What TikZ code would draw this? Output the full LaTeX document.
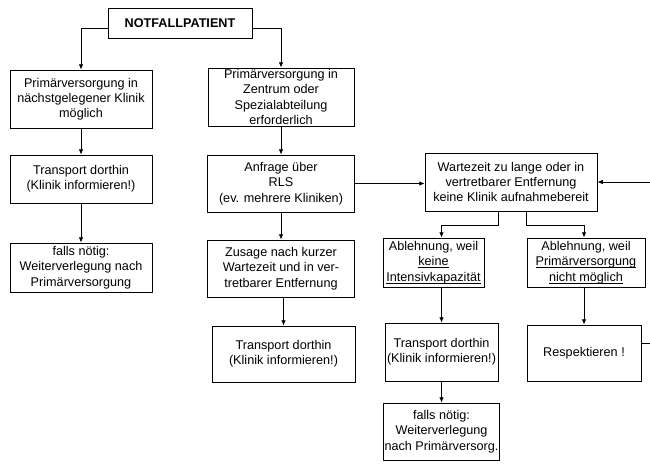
\documentclass[tikz,border=0pt]{standalone}
\usepackage{fontspec}
\setmainfont{Liberation Sans}
\usetikzlibrary{arrows.meta, positioning}
\newcommand{\uln}[1]{\underline{\smash{#1}}}
\tikzset{
    box/.style={
        rectangle,
        draw,
        line width=0.7pt,
        align=center,
        inner sep=1pt,
        font=\fontsize{10.8}{13}\selectfont
    },
    title/.style={
        box,
        font=\fontsize{10.8}{13}\selectfont\bfseries
    },
    flow/.style={
        -{Latex[length=1.6mm, width=1.4mm]},
        line width=0.8pt
    }
}

\begin{document}
\begin{tikzpicture}[x=0.3mm, y=-0.3mm]
    \clip (0,0) rectangle (650,468);

    % Top node
    \node (Notfall) [title, minimum width=43.2mm, minimum height=9mm] at (180,23) {NOTFALLPATIENT};

    % Left column
    \node (Prim1) [box, minimum width=42.6mm, minimum height=17.4mm] at (81,99) {Primärversorgung in\\nächstgelegener Klinik\\möglich};
    \node (Trans1) [box, minimum width=42.6mm, minimum height=14.4mm] at (81,179) {Transport dorthin\\(Klinik informieren!)};
    \node (Falls1) [box, minimum width=42.6mm, minimum height=14.7mm] at (81,267.5) {falls nötig:\\Weiterverlegung nach\\Primärversorgung};

    % Middle column
    \node (Prim2) [box, minimum width=43.8mm, minimum height=17.4mm] at (281,97) {Primärversorgung in\\Zentrum oder\\Spezialabteilung\\erforderlich};
    \node (Anfrage) [box, minimum width=44.1mm, minimum height=17.1mm] at (281,183.5) {Anfrage über\\RLS\\(ev. mehrere Kliniken)};
    \node (Zusage) [box, minimum width=44.1mm, minimum height=17.1mm] at (281,268.5) {Zusage nach kurzer\\Wartezeit und in ver-\\tretbarer Entfernung};
    \node (Trans2) [box, minimum width=42.9mm, minimum height=16.8mm] at (283.5,354) {Transport dorthin\\(Klinik informieren!)};

    % Right part
    \node (Warte) [box, minimum width=51.6mm, minimum height=17.4mm] at (511,182) {Wartezeit zu lange oder in\\vertretbarer Entfernung\\keine Klinik aufnahmebereit};
    \node (Abl1) [box, minimum width=30.3mm, minimum height=14.7mm] at (433.5,262.5) {Ablehnung, weil\\\uln{keine}\\\uln{Intensivkapazität}};
    \node (Abl2) [box, minimum width=35.4mm, minimum height=14.7mm] at (586,262.5) {Ablehnung, weil\\\uln{Primärversorgung}\\\uln{nicht möglich}};
    \node (Trans3) [box, minimum width=33.9mm, minimum height=17.4mm] at (441.5,352) {Transport dorthin\\(Klinik informieren!)};
    \node (Falls2) [box, minimum width=33.9mm, minimum height=17.1mm] at (441.5,431.5) {falls nötig:\\Weiterverlegung\\nach Primärversorg.};
    \node (Resp) [box, minimum width=34.2mm, minimum height=16.8mm] at (584,353) {Respektieren !};

    \coordinate (Split) at (0,225);
    \coordinate (Back) at (664,0);

    % Connectors
    \draw [flow] ([yshift=-1.5mm]Notfall.west) -| (Prim1.north);
    \draw [flow] ([yshift=-1.5mm]Notfall.east) -| (Prim2.north);
    \draw [flow] (Prim1.south) -- (Trans1.north);
    \draw [flow] (Trans1.south) -- (Falls1.north);
    \draw [flow] (Prim2.south) -- (Anfrage.north);
    \draw [flow] (Anfrage.south) -- (Zusage.north);
    \draw [flow] (Zusage.south -| Trans2.north) -- (Trans2.north);
    \draw [flow] (Anfrage.east) -- (Anfrage.east -| Warte.west);
    \draw [flow] ([xshift=-3.9mm]Warte.south) |- (Split -| Trans3.north) -- (Abl1.north -| Trans3.north);
    \draw [flow] ([xshift=4.5mm]Warte.south) |- (Split -| Resp.north) -- (Abl2.north -| Resp.north);
    \draw [flow] (Abl1.south -| Trans3.north) -- (Trans3.north);
    \draw [flow] (Trans3.south) -- (Falls2.north);
    \draw [flow] (Abl2.south -| Resp.north) -- (Resp.north);
    \draw [flow] ([yshift=3mm]Resp.east) -| (Back |- Warte.east) -- (Warte.east);

\end{tikzpicture}
\end{document}
